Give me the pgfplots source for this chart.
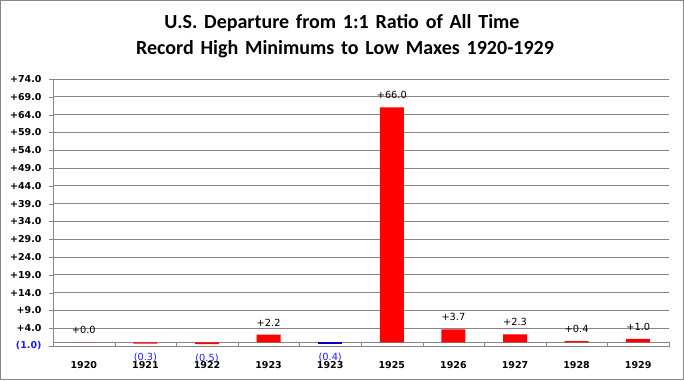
\documentclass[border=0pt]{standalone}
\usepackage{pgfplots}
\pgfplotsset{compat=1.18}
\usepackage{pgfplotstable}
\usepackage{fontspec}
\setmainfont{DejaVu Sans}
\newfontfamily\titlefont{Carlito}[WordSpace=1.5]
\definecolor{barred}{RGB}{255,0,0}
\definecolor{barblue}{RGB}{0,0,190}
\definecolor{negblue}{RGB}{30,30,240}
\definecolor{gridgray}{RGB}{134,134,134}

\pgfplotstableread{
x y lab
0 0.0 +0.0
3 2.2 +2.2
5 66.0 +66.0
6 3.7 +3.7
7 2.3 +2.3
8 0.4 +0.4
9 1.0 +1.0
}\pos
\pgfplotstableread{
x y lab
1 -0.3 (0.3)
2 -0.5 (0.5)
}\negred
\pgfplotstableread{
x y lab
4 -0.4 (0.4)
}\negblue

\begin{document}
\begin{tikzpicture}
\useasboundingbox (0pt,0pt) rectangle (684pt,380pt);
\draw[gridgray, line width=1pt] (0.5pt,0.5pt) rectangle (683.5pt,379.5pt);
\node[font=\titlefont\fontsize{20}{24}\selectfont\bfseries] at (342pt,357pt) {U.S. Departure from 1:1 Ratio of All Time};
\node[font=\titlefont\fontsize{20}{24}\selectfont\bfseries] at (345pt,331pt) {Record High Minimums to Low Maxes 1920-1929};
\begin{axis}[
  at={(53pt,34pt)}, anchor=south west,
  width=616pt, height=267pt, scale only axis,
  xmin=-0.5, xmax=9.5, ymin=-1, ymax=74,
  axis x line=middle, axis y line=left,
  axis line style={gridgray,-},
  ybar, bar width=24pt,
  xtick={0,...,9},
  xticklabels={1920,1921,1922,1923,1923,1925,1926,1927,1928,1929},
  minor xtick={-0.5,0.5,...,9.5},
  major x tick style={draw=none},
  minor x tick style={gridgray},
  tick align=outside,
  major tick length=4pt, minor tick length=5pt,
  ytick={-1,4,...,74},
  yticklabels={{\textcolor{negblue}{(1.0)}},+4.0,+9.0,+14.0,+19.0,+24.0,+29.0,+34.0,+39.0,+44.0,+49.0,+54.0,+59.0,+64.0,+69.0,+74.0},
  ytick style={gridgray},
  ymajorgrids, grid style={gridgray, line width=0.8pt},
  yticklabel style={font=\fontsize{9.5}{11}\selectfont\bfseries, xshift=-4pt},
  xticklabel style={font=\fontsize{9.5}{11}\selectfont\bfseries, yshift=-11pt},
  clip=false,
]
\addplot[fill=barred, draw=none, bar shift=0pt,
  point meta=explicit symbolic, nodes near coords,
  every node near coord/.append style={font=\fontsize{9.8}{11}\selectfont, text=black, anchor=south, yshift=5pt}]
  table[x=x, y=y, meta=lab] {\pos};
\addplot[fill=barred, draw=none, bar shift=0pt,
  point meta=explicit symbolic, nodes near coords,
  every node near coord/.append style={font=\fontsize{9.8}{11}\selectfont, text=negblue, anchor=north, yshift=-6pt}]
  table[x=x, y=y, meta=lab] {\negred};
\addplot[fill=barblue, draw=none, bar shift=0pt,
  point meta=explicit symbolic, nodes near coords,
  every node near coord/.append style={font=\fontsize{9.8}{11}\selectfont, text=negblue, anchor=north, yshift=-6pt}]
  table[x=x, y=y, meta=lab] {\negblue};
\end{axis}
\end{tikzpicture}
\end{document}
